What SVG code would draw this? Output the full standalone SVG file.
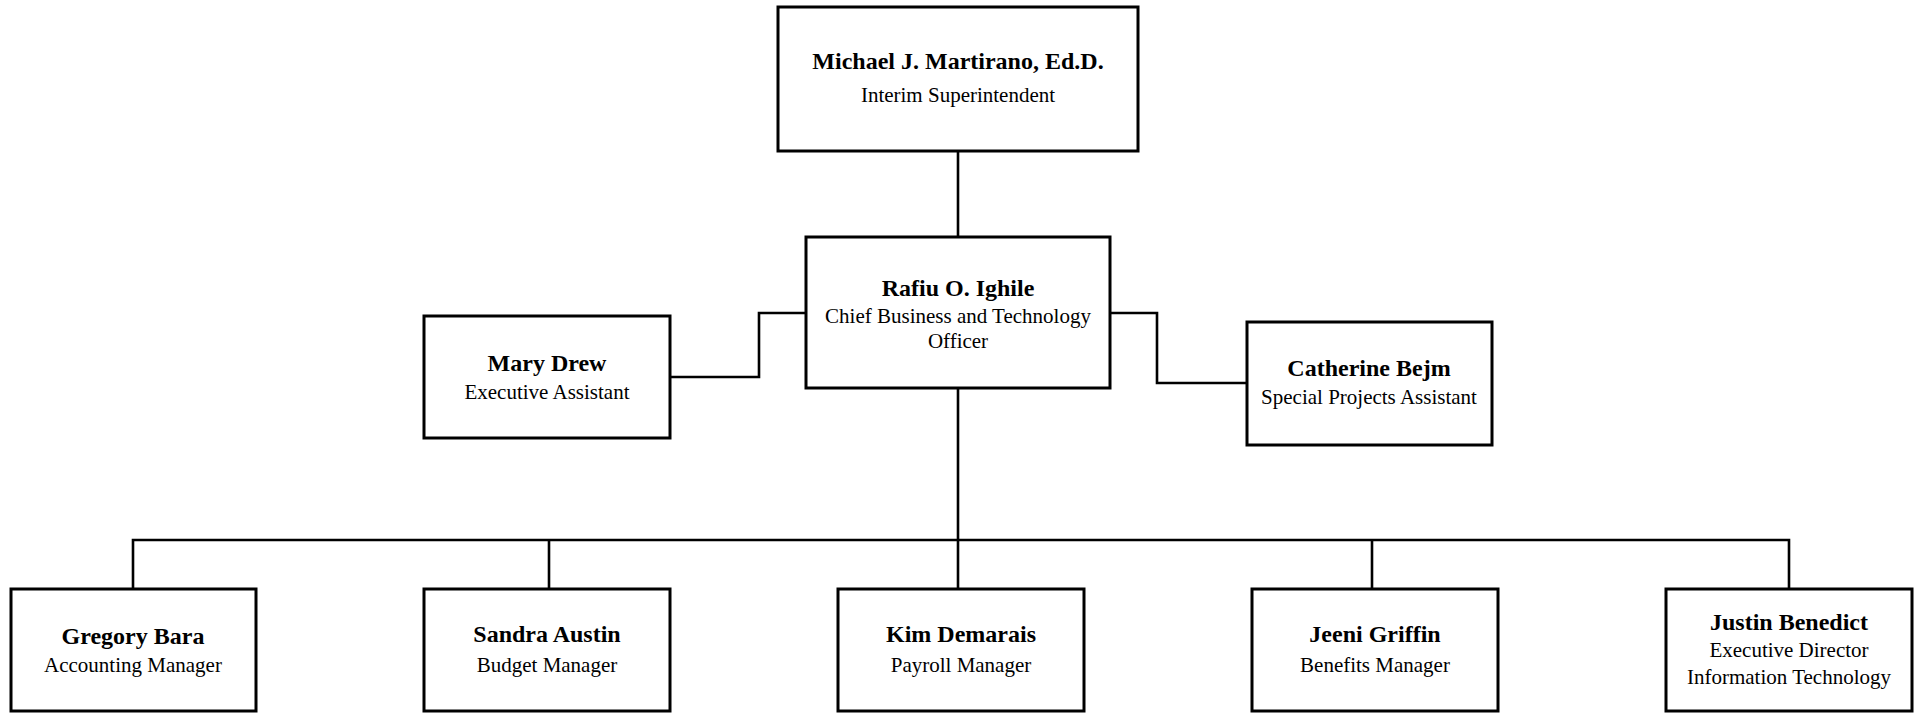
<svg xmlns="http://www.w3.org/2000/svg" width="1921" height="713" viewBox="0 0 1921 713">
<style>
.box{fill:#fff;stroke:#000;stroke-width:3}
.ln{fill:none;stroke:#000;stroke-width:2.6}
.n{font-family:"Liberation Serif","Times New Roman",serif;font-weight:bold;font-size:24px;text-anchor:middle;fill:#000}
.t{font-family:"Liberation Serif","Times New Roman",serif;font-size:21px;text-anchor:middle;fill:#000}
</style>
<rect width="1921" height="713" fill="#fff"/>
<g id="connectors">
<path class="ln" d="M958 151V237"/>
<path class="ln" d="M670 377H759V313H806"/>
<path class="ln" d="M1110 313H1157V383H1247"/>
<path class="ln" d="M958 388V589"/>
<path class="ln" d="M133 589V540H1789V589"/>
<path class="ln" d="M549 540V589"/>
<path class="ln" d="M1372 540V589"/>
</g>
<g id="n-martirano">
<rect class="box" x="778" y="7" width="360" height="144"/>
<text class="n" x="958" y="69">Michael J. Martirano, Ed.D.</text>
<text class="t" x="958" y="102">Interim Superintendent</text>
</g>
<g id="n-ighile">
<rect class="box" x="806" y="237" width="304" height="151"/>
<text class="n" x="958" y="296">Rafiu O. Ighile</text>
<text class="t" x="958" y="323">Chief Business and Technology</text>
<text class="t" x="958" y="348">Officer</text>
</g>
<g id="n-drew">
<rect class="box" x="424" y="316" width="246" height="122"/>
<text class="n" x="547" y="371">Mary Drew</text>
<text class="t" x="547" y="399">Executive Assistant</text>
</g>
<g id="n-bejm">
<rect class="box" x="1247" y="322" width="245" height="123"/>
<text class="n" x="1369" y="376">Catherine Bejm</text>
<text class="t" x="1369" y="404">Special Projects Assistant</text>
</g>
<g id="n-bara">
<rect class="box" x="11" y="589" width="245" height="122"/>
<text class="n" x="133" y="644">Gregory Bara</text>
<text class="t" x="133" y="672">Accounting Manager</text>
</g>
<g id="n-austin">
<rect class="box" x="424" y="589" width="246" height="122"/>
<text class="n" x="547" y="642">Sandra Austin</text>
<text class="t" x="547" y="672">Budget Manager</text>
</g>
<g id="n-demarais">
<rect class="box" x="838" y="589" width="246" height="122"/>
<text class="n" x="961" y="642">Kim Demarais</text>
<text class="t" x="961" y="672">Payroll Manager</text>
</g>
<g id="n-griffin">
<rect class="box" x="1252" y="589" width="246" height="122"/>
<text class="n" x="1375" y="642">Jeeni Griffin</text>
<text class="t" x="1375" y="672">Benefits Manager</text>
</g>
<g id="n-benedict">
<rect class="box" x="1666" y="589" width="246" height="122"/>
<text class="n" x="1789" y="630">Justin Benedict</text>
<text class="t" x="1789" y="657">Executive Director</text>
<text class="t" x="1789" y="684">Information Technology</text>
</g>
</svg>
